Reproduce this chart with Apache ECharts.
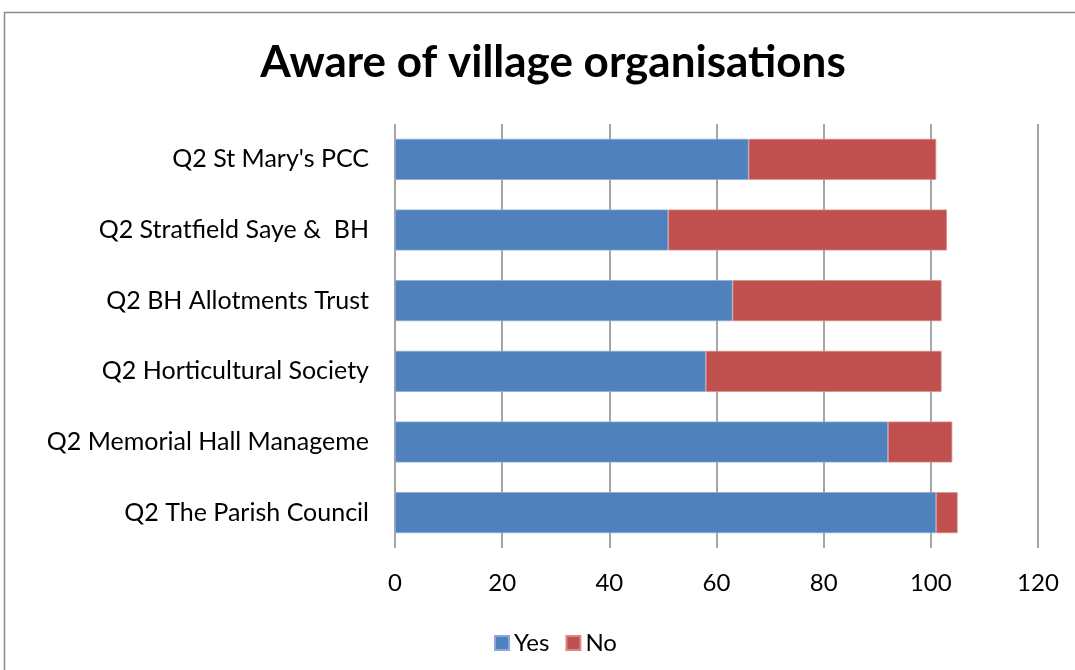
<!DOCTYPE html>
<html>
<head>
<meta charset="utf-8">
<title>Aware of village organisations</title>
<script src="https://cdn.jsdelivr.net/npm/echarts@6/dist/echarts.min.js"></script>
<style>
  html, body { margin: 0; padding: 0; background: #fff; }
  #main { width: 1075px; height: 670px; }
</style>
</head>
<body>
<div id="main"></div>
<script>
// categories, top to bottom
let categories = [
    "Q2 St Mary's PCC",
    'Q2 Stratfield Saye &  BH',
    'Q2 BH Allotments Trust',
    'Q2 Horticultural Society',
    'Q2 Memorial Hall Manageme',
    'Q2 The Parish Council'
];
let yesValues = [66, 51, 63, 58, 92, 101];
let noValues = [35, 52, 39, 44, 12, 4];
let xTicks = [0, 20, 40, 60, 80, 100, 120];

let font = 'Lato';
let myChart = echarts.init(document.getElementById('main'));

let option = {
    backgroundColor: '#fff',
    animation: false,
    textStyle: { fontFamily: font, color: '#000' },
    title: {
        text: 'Aware of village organisations',
        left: 548,
        textAlign: 'center',
        top: 36,
        textStyle: { fontFamily: font, fontSize: 44, fontWeight: 'bold', color: '#000' }
    },
    // 外框
    graphic: [{
        type: 'rect',
        shape: { x: 4.5, y: 12.5, width: 1090, height: 680 },
        style: { fill: null, stroke: '#8a8a8a', lineWidth: 1.5 },
        silent: true
    }],
    legend: {
        data: ['Yes', 'No'],
        left: 489,
        top: 626,
        itemWidth: 14,
        itemHeight: 14,
        itemGap: 16,
        icon: 'rect',
        textStyle: { fontFamily: font, fontSize: 24, color: '#000' }
    },
    grid: { left: 395, right: 37, top: 124, bottom: 122 },
    xAxis: {
        type: 'value',
        min: xTicks[0],
        max: xTicks[xTicks.length - 1],
        interval: xTicks[1] - xTicks[0],
        axisLine: { show: false },
        axisTick: { show: false },
        splitLine: { show: true, lineStyle: { color: '#888', width: 1.5 } },
        axisLabel: { fontFamily: font, fontSize: 24, color: '#000', margin: 23 }
    },
    yAxis: {
        type: 'category',
        data: categories,
        inverse: true,
        axisLine: { show: false },
        axisTick: { show: false },
        axisLabel: { fontFamily: font, fontSize: 25, color: '#000', margin: 26 }
    },
    series: [
        {
            name: 'Yes',
            type: 'bar',
            stack: 'total',
            barCategoryGap: '42%',
            data: yesValues,
            itemStyle: { color: '#4f81bd', borderColor: '#8aa9d6', borderWidth: 0.8 }
        },
        {
            name: 'No',
            type: 'bar',
            stack: 'total',
            barCategoryGap: '42%',
            data: noValues,
            itemStyle: { color: '#c0504d', borderColor: '#d88a88', borderWidth: 0.8 }
        }
    ]
};
myChart.setOption(option);
</script>
</body>
</html>
